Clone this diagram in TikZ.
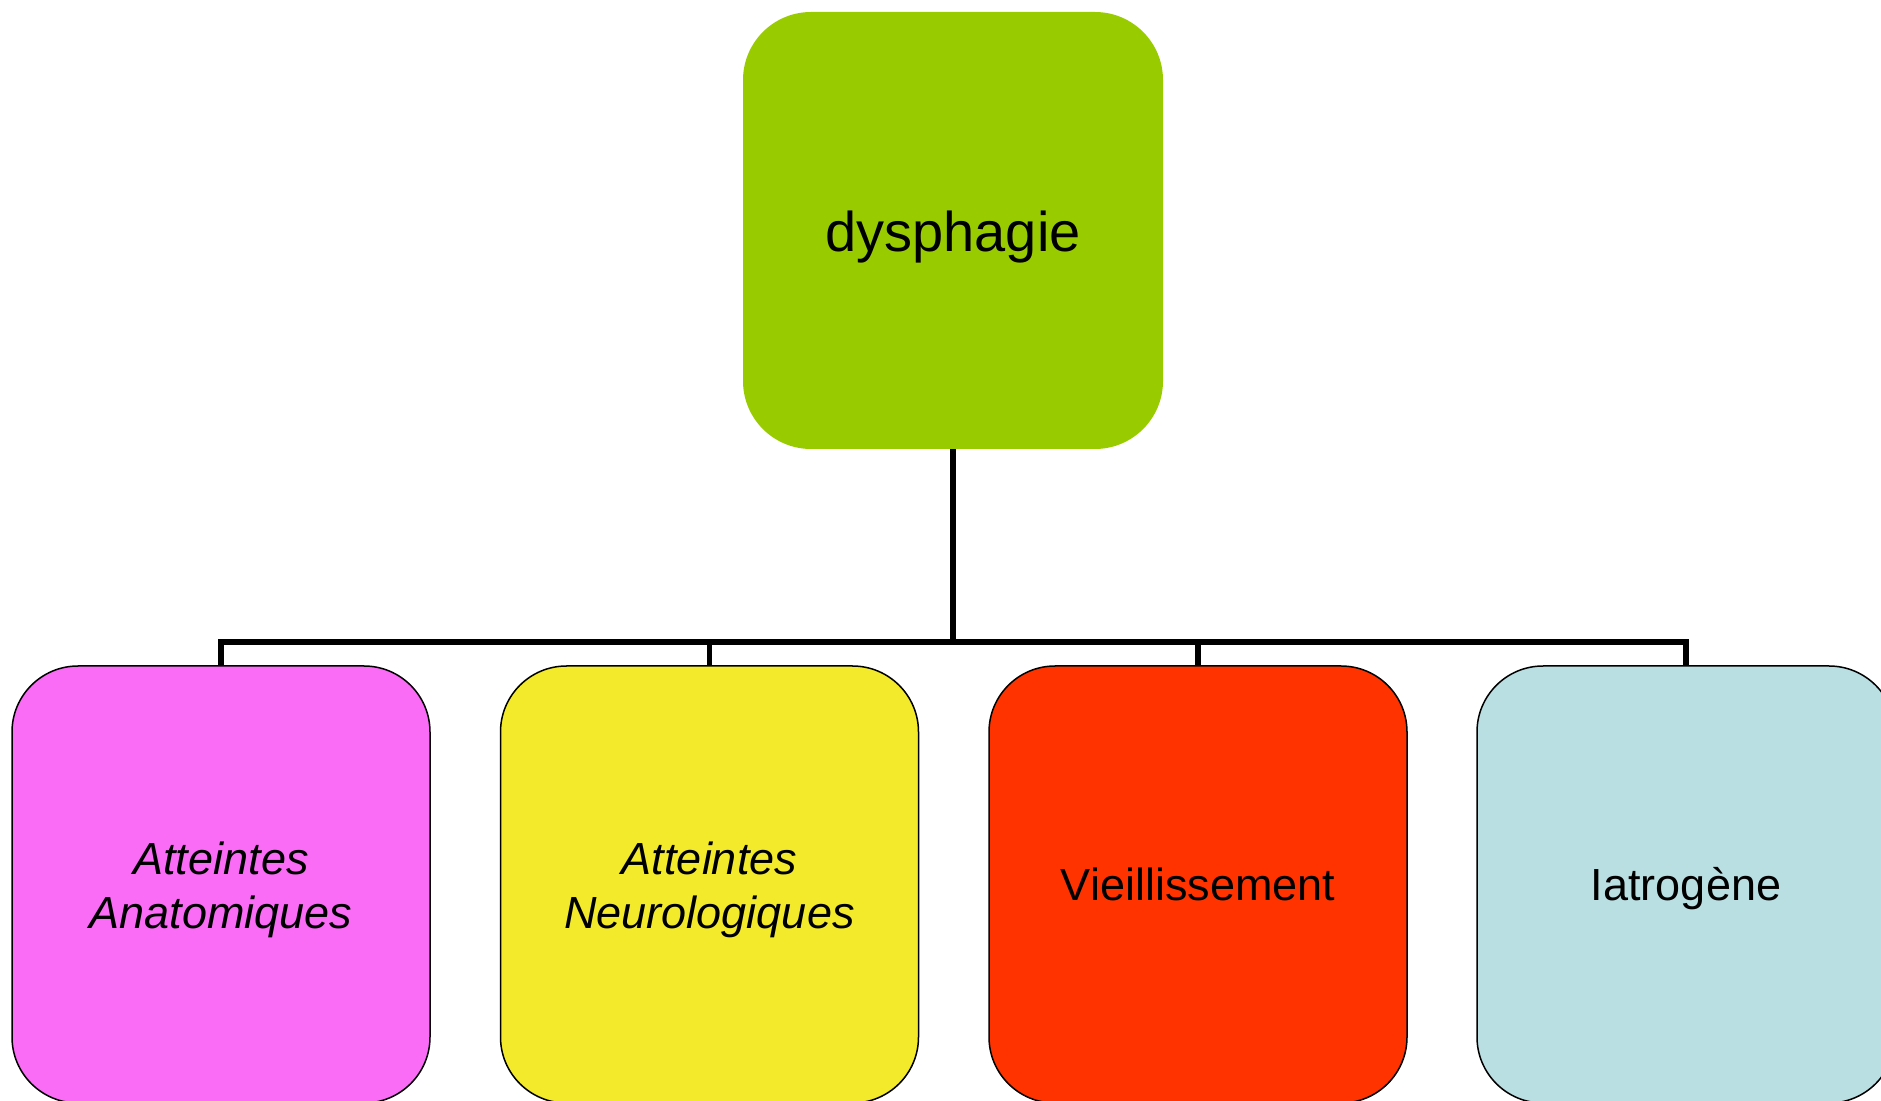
\documentclass[tikz,border=0pt]{standalone}
\usepackage{fontspec}
\setmainfont{Liberation Sans}
\definecolor{cgreen}{HTML}{99CC00}
\definecolor{cpink}{HTML}{FA6CF5}
\definecolor{cyellow}{HTML}{F3EA2B}
\definecolor{cred}{HTML}{FF3300}
\definecolor{cblue}{HTML}{B9DFE3}
\newcommand{\lowtext}[2]{\raisebox{#1}[0pt][0pt]{\begin{tabular}[t]{@{}c@{}}#2\end{tabular}}}
\tikzset{
  topbox/.style={rectangle, rounded corners=34pt, fill=cgreen, minimum width=210pt, minimum height=218.5pt, inner sep=0pt, font=\fontsize{28}{33}\selectfont},
  catbox/.style={rectangle, rounded corners=33pt, draw=black, line width=0.75pt, minimum width=209pt, minimum height=218.5pt, inner sep=0pt, align=center, font=\fontsize{22.5}{27}\selectfont},
  link/.style={draw=black, line width=2.8pt, line join=miter}
}
\begin{document}
\begin{tikzpicture}[x=0.5pt, y=-0.5pt]
\useasboundingbox (0,0) rectangle (1881,1101);
\clip (0,0) rectangle (1881,1101);
\node[topbox] (top) at (953,230.5) {\lowtext{-10.5pt}{dysphagie}};
\node[catbox, fill=cpink] (b1) at (221,884.5) {\lowtext{5.25pt}{\itshape Atteintes\\\itshape Anatomiques}};
\node[catbox, fill=cyellow] (b2) at (709.5,884.5) {\lowtext{5.25pt}{\itshape Atteintes\\\itshape Neurologiques}};
\node[catbox, fill=cred] (b3) at (1198,884.5) {\lowtext{-7.75pt}{Vieillissement}};
\node[catbox, fill=cblue] (b4) at (1686,884.5) {\lowtext{-7.75pt}{Iatrogène}};
\coordinate (bar) at (953,642);
\draw[link] (top.south) -- (bar);
\draw[link] (bar) -| (b1.north);
\draw[link] (bar) -| (b2.north);
\draw[link] (bar) -| (b3.north);
\draw[link] (bar) -| (b4.north);
\end{tikzpicture}
\end{document}
